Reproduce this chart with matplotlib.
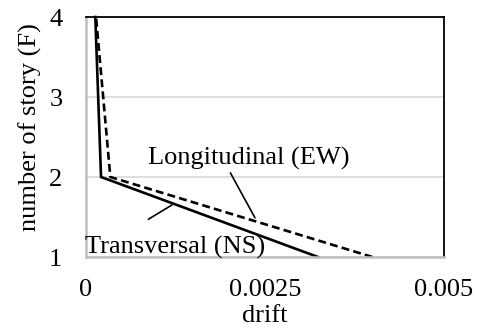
import numpy as np
import matplotlib
matplotlib.use("Agg")
import matplotlib.pyplot as plt

# story drift per floor
stories = [1, 2, 3, 4]
drift_ns = [0.00324, 0.00021, 0.00017, 0.00013]   # Transversal (NS), solid
drift_ew = [0.00400, 0.00034, 0.00024, 0.00014]   # Longitudinal (EW), dashed
xticks = [0, 0.0025, 0.005]
xticklabels = ["0", "0.0025", "0.005"]
yticks = [1, 2, 3, 4]

plt.rcParams["font.family"] = ["Liberation Serif", "DejaVu Serif"]
fs = 19

fig = plt.figure(figsize=(4.79, 3.29), dpi=100)
ax = fig.add_axes([86 / 479, 1 - 257 / 329, (444 - 86) / 479, (257 - 17) / 329])

ax.plot(drift_ns, stories, color="black", lw=1.9, solid_joinstyle="miter", clip_on=False)
ax.plot(drift_ew, stories, color="black", lw=1.9, ls=(0, (3, 1.6)), clip_on=False)

ax.set_xlim(0, 0.005)
ax.set_ylim(1, 4)
ax.set_xticks(xticks, xticklabels)
ax.set_yticks(yticks)
ax.tick_params(length=0, labelsize=fs)
ax.tick_params(axis="x", pad=16)
ax.tick_params(axis="y", pad=17)
ax.grid(axis="y", color="#d9d9d9", lw=1.2)
ax.set_axisbelow(True)
for s in ("left", "bottom"):
    ax.spines[s].set_color("#bfbfbf")
    ax.spines[s].set_linewidth(1.8)
for s in ("top", "right"):
    ax.spines[s].set_color("black")
    ax.spines[s].set_linewidth(1.3)

ax.set_xlabel("drift", fontsize=fs, labelpad=3)
fig.text(30 / 479, 1 - 127 / 329, "number of story (F)", fontsize=fs,
         rotation=90, ha="center", va="center")

# annotations with leader lines
ax.annotate("Longitudinal (EW)", xy=(0.00236, 1.49), xytext=(0.002277, 2.23),
            textcoords="data", fontsize=fs, ha="center", va="center",
            arrowprops=dict(arrowstyle="-", color="black", lw=1.2,
                            shrinkA=0, shrinkB=0, relpos=(0.40, 0.0)))
ax.annotate("Transversal (NS)", xy=(0.00120, 1.65), xytext=(-0.00001, 1.125),
            textcoords="data", fontsize=fs, ha="left", va="center",
            arrowprops=dict(arrowstyle="-", color="black", lw=1.2,
                            shrinkA=0, shrinkB=0, relpos=(0.35, 1.7)))

fig.savefig("out.png", dpi=100)
